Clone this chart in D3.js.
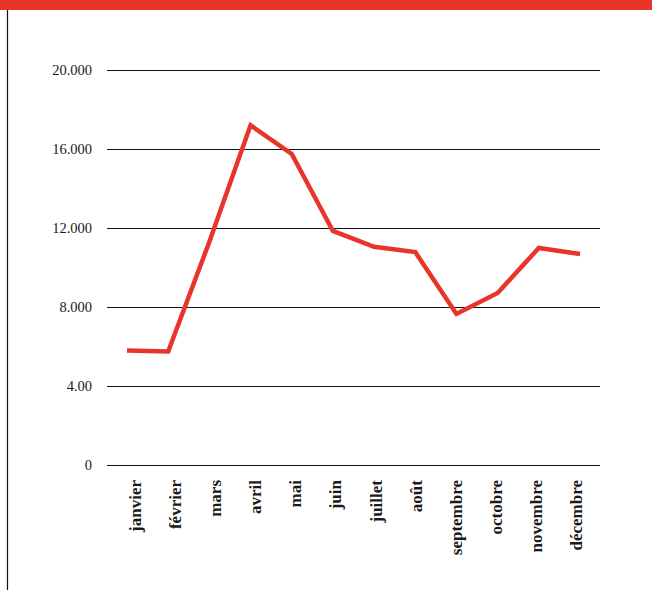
<!DOCTYPE html>
<html>
<head>
<meta charset="utf-8">
<script src="https://cdn.jsdelivr.net/npm/d3@7"></script>
<style>
    body { margin: 0; background: #fff; }
    svg { display: block; }
    .grid line { stroke: #111; stroke-width: 1; shape-rendering: crispEdges; }
    .grid text { font-family: "Liberation Serif", serif; font-size: 14.5px; fill: #1a1a1a; }
    .month { font-family: "Liberation Serif", serif; font-size: 17px; font-weight: bold; fill: #1a1a1a; }
</style>
</head>
<body>
<svg id="chart" width="652" height="590"></svg>
<script>
// months of the year
const months = ["janvier", "février", "mars", "avril", "mai", "juin",
    "juillet", "août", "septembre", "octobre", "novembre", "décembre"];
// values
const values = [5800, 5750, 11300, 17200, 15750, 11850,
    11050, 10780, 7650, 8710, 10990, 10680];
// y axis ticks, labels as printed in the original
const tickValues = [0, 4000, 8000, 12000, 16000, 20000];
const tickLabels = ["0", "4.00", "8.000", "12.000", "16.000", "20.000"];

let svg = d3.select("#chart");

// red band on top and thin rule on the left
svg.append("rect")
    .attr("x", 0).attr("y", 0)
    .attr("width", 652).attr("height", 10)
    .attr("fill", "#e8352c");

svg.append("line")
    .attr("x1", 7.5).attr("x2", 7.5)
    .attr("y1", 10).attr("y2", 590)
    .attr("stroke", "#111")
    .attr("stroke-width", 1.2);

let x = d3.scalePoint().domain(months).range([127, 580]);
let labelX = d3.scalePoint().domain(months).range([141, 582]);
let y = d3.scaleLinear().domain([0, 20000]).range([465, 70]);

// gridlines + tick labels
let axis = d3.axisLeft(y)
    .tickValues(tickValues)
    .tickFormat((d, i) => tickLabels[i])
    .tickSize(-493)
    .tickPadding(15);

svg.append("g")
    .attr("class", "grid")
    .attr("transform", "translate(107,0)")
    .call(axis)
    .call(g => g.select(".domain").remove());

// month labels, rotated
svg.append("g").selectAll("text")
    .data(months)
    .enter()
    .append("text")
    .attr("class", "month")
    .attr("text-anchor", "end")
    .attr("transform", d => "translate(" + labelX(d) + ",480) rotate(-90)")
    .text(d => d);

// the line
let line = d3.line()
    .x((d, i) => x(months[i]))
    .y(d => y(d));

svg.append("path")
    .datum(values)
    .attr("d", line)
    .attr("fill", "none")
    .attr("stroke", "#e8352c")
    .attr("stroke-width", 4.5)
    .attr("stroke-linejoin", "miter");
</script>
</body>
</html>
